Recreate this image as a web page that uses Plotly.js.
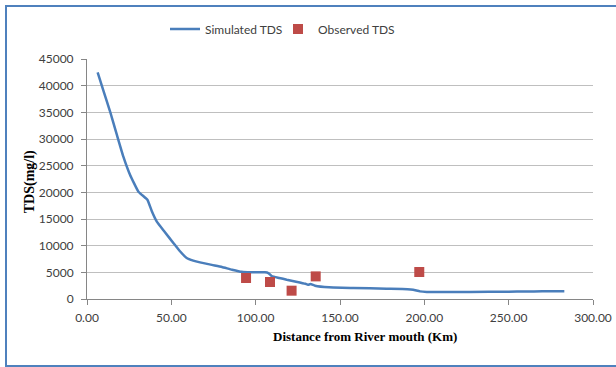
<!DOCTYPE html>
<html>
<head>
<meta charset="utf-8">
<script src="https://cdn.plot.ly/plotly-3.0.1.min.js"></script>
<style>
html,body{margin:0;padding:0;background:#fff;overflow:hidden;}
#chart{position:absolute;left:0;top:0;width:616px;height:367px;}
#frame{position:absolute;left:5px;top:5px;width:640px;height:358px;border:2px solid #4f81bd;pointer-events:none;}
</style>
</head>
<body>
<div id="chart"></div>
<div id="frame"></div>
<script>
// Simulated TDS along the river (distance km, TDS mg/l)
var simDistance = [6.3, 10, 13.6, 17.5, 21.5, 25.5, 30.4, 33, 35.8, 38.5, 41.3, 46, 51.2, 55, 59.1, 63, 67, 74, 80, 86, 91.7, 97, 102.5, 105.5, 107.5, 109.5, 114, 118.4, 124, 129.5, 131, 132.5, 135.2, 143.5, 157.9, 177.6, 190, 193.4, 197.4, 201.4, 227, 250, 260, 270, 283];
var simTDS      = [42500, 38800, 35250, 31000, 26740, 23300, 20170, 19400, 18620, 16400, 14550, 12600, 10500, 9000, 7690, 7200, 6870, 6400, 6000, 5500, 5100, 5000, 5000, 5000, 4870, 4300, 3950, 3620, 3250, 2850, 2650, 2800, 2490, 2180, 2060, 1930, 1850, 1740, 1430, 1330, 1330, 1350, 1420, 1430, 1430];
// Observed TDS
var obsDistance = [94.3, 108.5, 121.3, 135.6, 197];
var obsTDS      = [3940, 3190, 1560, 4240, 5060];

var xTicks = [0, 50, 100, 150, 200, 250, 300];
var xTickText = ['0.00', '50.00', '100.00', '150.00', '200.00', '250.00', '300.00'];
var yTicks = [0, 5000, 10000, 15000, 20000, 25000, 30000, 35000, 40000, 45000];

var traces = [
  {x: simDistance, y: simTDS, type: 'scatter', mode: 'lines', name: 'Simulated TDS',
   legend: 'legend',
   line: {color: '#4a7ebb', width: 2.5, shape: 'spline', smoothing: 0.4}},
  {x: obsDistance, y: obsTDS, type: 'scatter', mode: 'markers', name: 'Observed TDS',
   legend: 'legend2',
   marker: {symbol: 'square', color: '#be4b48', size: 10}}
];

var tickFont = {family: 'Lato, sans-serif', size: 12, color: '#404040'};
var legendFont = {family: 'Lato, sans-serif', size: 12, color: '#404040'};
var layout = {
  width: 616, height: 367,
  margin: {l: 87, r: 23, t: 59, b: 68, pad: 0, autoexpand: false},
  paper_bgcolor: '#fff', plot_bgcolor: '#fff',
  showlegend: true,
  legend: {orientation: 'h', xref: 'container', yref: 'container',
           x: 165 / 616, xanchor: 'left', y: 1 - 29 / 367, yanchor: 'middle',
           font: legendFont, bgcolor: 'rgba(0,0,0,0)', itemwidth: 30, borderwidth: 0},
  legend2: {orientation: 'h', xref: 'container', yref: 'container',
           x: 278 / 616, xanchor: 'left', y: 1 - 29 / 367, yanchor: 'middle',
           font: legendFont, bgcolor: 'rgba(0,0,0,0)', itemwidth: 30, borderwidth: 0},
  xaxis: {range: [0, 300], tickvals: xTicks, ticktext: xTickText, showgrid: false,
          zeroline: false, showline: true, linecolor: '#868686', linewidth: 1,
          ticks: 'outside', ticklen: 5, tickcolor: '#868686', tickfont: tickFont,
          ticklabelstandoff: 3, fixedrange: true},
  yaxis: {range: [0, 45000], tickvals: yTicks, showgrid: true, gridcolor: '#bfbfbf',
          zeroline: false, showline: true, linecolor: '#868686', linewidth: 1,
          ticks: 'outside', ticklen: 5, tickcolor: '#868686', tickfont: tickFont,
          ticklabelstandoff: 5, tickformat: 'd', fixedrange: true},
  annotations: [
    {text: 'Distance from River mouth (Km)', xref: 'paper', yref: 'paper', x: 0.55, y: -0.155,
     xanchor: 'center', yanchor: 'middle', showarrow: false,
     font: {family: 'Liberation Serif, serif', size: 13, color: '#000', weight: 'bold'}},
    {text: 'TDS(mg/l)', xref: 'paper', yref: 'paper', x: -0.111, y: 0.49, textangle: -90,
     xanchor: 'center', yanchor: 'middle', showarrow: false,
     font: {family: 'Liberation Serif, serif', size: 14, color: '#000', weight: 'bold'}}
  ]
};

Plotly.newPlot('chart', traces, layout, {staticPlot: true, displayModeBar: false});
</script>
</body>
</html>
